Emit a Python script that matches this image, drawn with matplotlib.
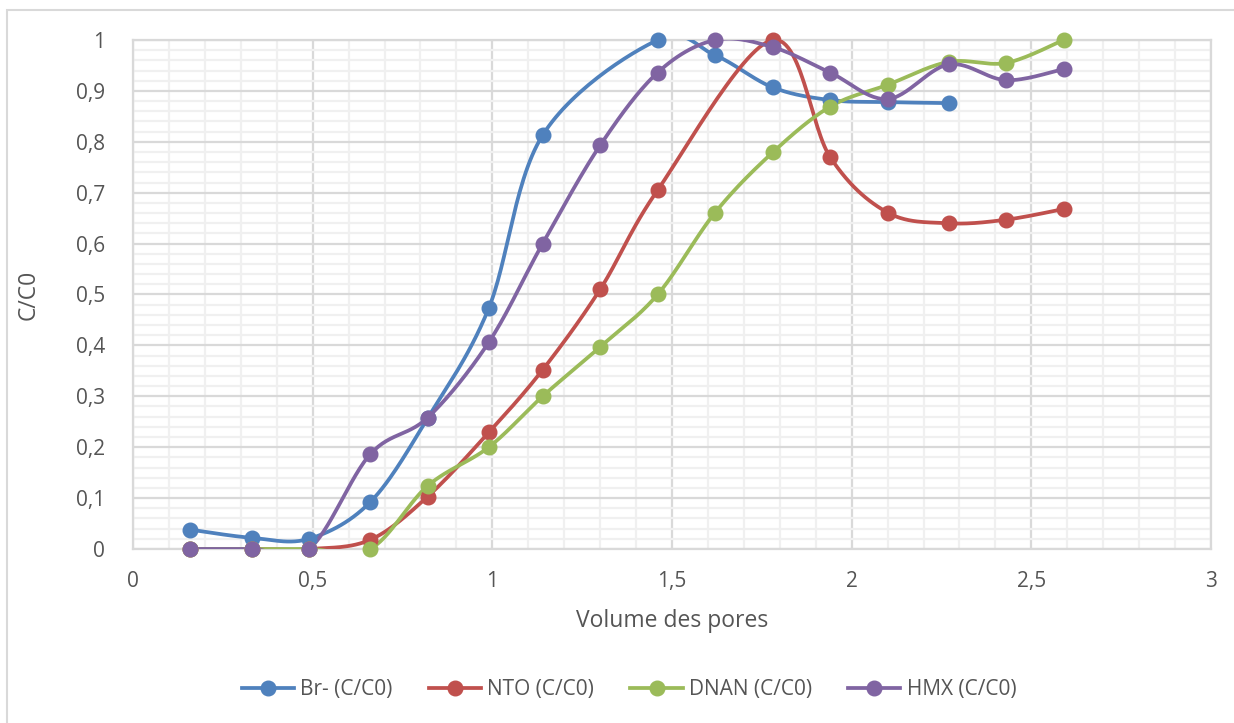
import numpy as np
import matplotlib
matplotlib.use("Agg")
import matplotlib.pyplot as plt
from matplotlib.ticker import MultipleLocator, FuncFormatter
from matplotlib.patches import Rectangle

# pore volumes where samples were taken
pv = [0.16, 0.33, 0.49, 0.66, 0.82, 0.99, 1.14, 1.30, 1.46, 1.62, 1.78, 1.94, 2.10, 2.27, 2.43, 2.59]

br_x = [0.16, 0.33, 0.49, 0.66, 0.82, 0.99, 1.14, 1.46, 1.62, 1.78, 1.94, 2.10, 2.27]
br_y = [0.038, 0.022, 0.020, 0.092, 0.257, 0.473, 0.813, 1.0, 0.970, 0.907, 0.882, 0.878, 0.876]

nto_x = [0.16, 0.33, 0.49, 0.66, 0.82, 0.99, 1.14, 1.30, 1.46, 1.78, 1.94, 2.10, 2.27, 2.43, 2.59]
nto_y = [0.0, 0.0, 0.0, 0.018, 0.103, 0.229, 0.352, 0.510, 0.705, 1.0, 0.770, 0.661, 0.640, 0.647, 0.668]

dnan_x = pv
dnan_y = [0.0, 0.0, 0.0, 0.0, 0.124, 0.200, 0.300, 0.397, 0.500, 0.661, 0.779, 0.869, 0.912, 0.957, 0.955, 1.0]

hmx_x = pv
hmx_y = [0.0, 0.0, 0.0, 0.186, 0.258, 0.406, 0.600, 0.793, 0.936, 1.0, 0.986, 0.936, 0.884, 0.952, 0.921, 0.943]

labels = ["Br- (C/C0)", "NTO (C/C0)", "DNAN (C/C0)", "HMX (C/C0)"]
colors = ["#4F81BD", "#C0504D", "#9BBB59", "#8064A2"]


def smooth(x, y, n=30):
    # excel-like smoothing: catmull-rom curve through the points
    p = np.column_stack([x, y]).astype(float)
    p = np.vstack([p[0], p, p[-1]])
    out = []
    for i in range(1, len(p) - 2):
        p0, p1, p2, p3 = p[i - 1], p[i], p[i + 1], p[i + 2]
        c1 = p1 + (p2 - p0) / 6
        c2 = p2 - (p3 - p1) / 6
        t = np.linspace(0, 1, n)[:, None]
        seg = (1 - t) ** 3 * p1 + 3 * (1 - t) ** 2 * t * c1 + 3 * (1 - t) * t ** 2 * c2 + t ** 3 * p2
        out.append(seg if i == 1 else seg[1:])
    out = np.vstack(out)
    return out[:, 0], out[:, 1]


plt.rcParams['font.family'] = ['Open Sans', 'DejaVu Sans']
txt = "#555555"

fig = plt.figure(figsize=(12.34, 7.23), dpi=100)
ax = fig.add_axes([133 / 1234, 1 - 549 / 723, (1211 - 133) / 1234, (549 - 40) / 723])

fig.patches.append(Rectangle((7 / 1234, -0.01), 1.02, 1 - 10 / 723 + 0.01, transform=fig.transFigure,
                             fill=False, edgecolor="#d9d9d9", linewidth=1.5, zorder=0))

series = [(br_x, br_y), (nto_x, nto_y), (dnan_x, dnan_y), (hmx_x, hmx_y)]
for (xs, ys), lab, c in zip(series, labels, colors):
    sx, sy = smooth(xs, ys)
    ax.plot(sx, sy, color=c, lw=2.7, solid_capstyle='round', zorder=3)
    ax.plot(xs, ys, linestyle='none', marker='o', ms=10.5, color=c, clip_on=False, zorder=4)
    ax.plot([], [], color=c, lw=2.7, marker='o', ms=10.5, label=lab)

ax.set_xlim(0, 3)
ax.set_ylim(0, 1)
ax.xaxis.set_major_locator(MultipleLocator(0.5))
ax.xaxis.set_minor_locator(MultipleLocator(0.1))
ax.yaxis.set_major_locator(MultipleLocator(0.1))
ax.yaxis.set_minor_locator(MultipleLocator(0.02))
fmt = FuncFormatter(lambda v, pos: ("%g" % round(v, 2)).replace('.', ','))
ax.xaxis.set_major_formatter(fmt)
ax.yaxis.set_major_formatter(fmt)
ax.grid(which='major', color="#d9d9d9", lw=1.6)
ax.grid(which='minor', color="#f0f0f0", lw=1.6)
ax.set_axisbelow(True)
for s in ax.spines.values():
    s.set_color("#d9d9d9")
    s.set_linewidth(1.6)
ax.tick_params(which='both', length=0, colors=txt, labelsize=15)
ax.tick_params(axis='x', pad=16)
ax.tick_params(axis='y', pad=20)

ax.set_xlabel("Volume des pores", fontsize=16.5, color=txt, labelpad=12)
ax.set_ylabel("C/C0", fontsize=16.5, color=txt)
ax.yaxis.set_label_coords((41 - 133) / 1078, 0.5)

ax.legend(loc='center', bbox_to_anchor=(629 / 1234, 1 - 690 / 723), bbox_transform=fig.transFigure,
          ncol=4, frameon=False, fontsize=15, handlelength=2.5, columnspacing=1.75,
          handletextpad=0.3, labelcolor=txt)

fig.savefig("out.png", dpi=100)
